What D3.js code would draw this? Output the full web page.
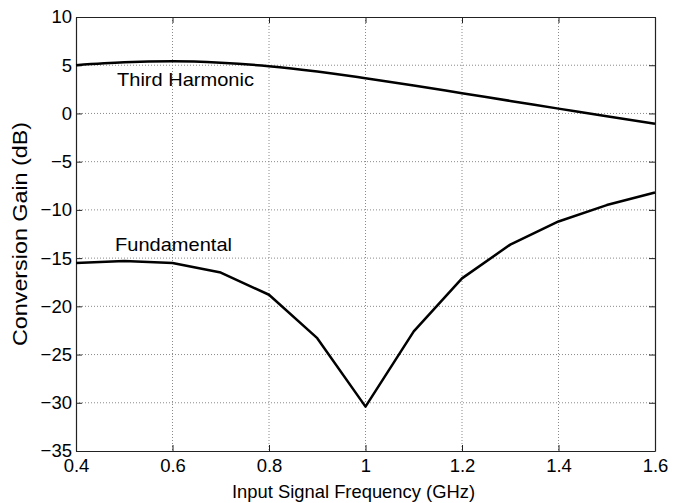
<!DOCTYPE html>
<html>
<head>
<meta charset="utf-8">
<script src="https://cdn.jsdelivr.net/npm/d3@7"></script>
<style>
  html, body { margin: 0; padding: 0; background: #fff; }
  svg { display: block; font-family: "Liberation Sans", Arial, Helvetica, sans-serif; }
</style>
</head>
<body>
<svg id="chart" width="673" height="503"></svg>
<script>
const frequency = [0.4, 0.5, 0.6, 0.7, 0.8, 0.9, 1.0, 1.1, 1.2, 1.3, 1.4, 1.5, 1.6];
const thirdHarmonic = [5.0, 5.3, 5.4, 5.25, 4.9, 4.35, 3.65, 2.9, 2.1, 1.3, 0.5, -0.3, -1.07];
const fundamental = [-15.5, -15.3, -15.5, -16.5, -18.8, -23.3, -30.4, -22.6, -17.1, -13.6, -11.2, -9.5, -8.2];
const xTicks = [0.4, 0.6, 0.8, 1.0, 1.2, 1.4, 1.6];
const yTicks = [-35, -30, -25, -20, -15, -10, -5, 0, 5, 10];
const seriesLabels = ["Third Harmonic", "Fundamental"];
const xLabel = "Input Signal Frequency (GHz)";
const yLabel = "Conversion Gain (dB)";

(function () {
const svg = d3.select("#chart");
const pL = 76, pR = 655, pT = 17, pB = 451;
const x = d3.scaleLinear().domain([0.4, 1.6]).range([pL, pR]);
const y = d3.scaleLinear().domain([-35, 10]).range([pB, pT]);

// grid
const grid = svg.append("g");
grid.selectAll(".vg").data(xTicks.slice(1, -1)).join("line")
  .attr("x1", d => x(d)).attr("x2", d => x(d))
  .attr("y1", pT).attr("y2", pB)
  .attr("stroke", "#8a8a8a").attr("stroke-width", 1).attr("stroke-dasharray", "1,2");
grid.selectAll(".hg").data(yTicks.slice(1, -1)).join("line")
  .attr("x1", pL).attr("x2", pR)
  .attr("y1", d => y(d)).attr("y2", d => y(d))
  .attr("stroke", "#8a8a8a").attr("stroke-width", 1).attr("stroke-dasharray", "1,2");

// axes (inward ticks on all sides)
const fmtX = d => d === 1 ? "1" : d3.format(".1f")(d);
const fmtY = d => d3.format("d")(d);
const axB = svg.append("g").attr("transform", `translate(0,${pB})`)
  .call(d3.axisBottom(x).tickValues(xTicks).tickFormat(fmtX).tickSizeInner(-6).tickSizeOuter(0).tickPadding(10));
const axT = svg.append("g").attr("transform", `translate(0,${pT})`)
  .call(d3.axisTop(x).tickValues(xTicks).tickFormat("").tickSizeInner(-6).tickSizeOuter(0));
const axL = svg.append("g").attr("transform", `translate(${pL},0)`)
  .call(d3.axisLeft(y).tickValues(yTicks).tickFormat(fmtY).tickSizeInner(-6).tickSizeOuter(0).tickPadding(4));
const axR = svg.append("g").attr("transform", `translate(${pR},0)`)
  .call(d3.axisRight(y).tickValues(yTicks).tickFormat("").tickSizeInner(-6).tickSizeOuter(0));

[axB, axT, axL, axR].forEach(a => {
  a.select(".domain").attr("stroke", "#222").attr("stroke-width", 1.2);
  a.selectAll(".tick line").attr("stroke", "#222").attr("stroke-width", 1);
  a.selectAll("text").attr("font-size", 18.5).attr("fill", "#000")
    .attr("font-family", "'Liberation Sans', Arial, sans-serif");
});
axB.selectAll("text").attr("y", 8).attr("dy", "0.72em");
axL.selectAll("text").attr("x", -4);

// lines
const line = d3.line().x((d, i) => x(frequency[i])).y(d => y(d)).curve(d3.curveLinear);
const thirdLine = d3.line().x((d, i) => x(frequency[i])).y(d => y(d)).curve(d3.curveMonotoneX);
svg.append("path").datum(thirdHarmonic).attr("d", thirdLine)
  .attr("fill", "none").attr("stroke", "#000").attr("stroke-width", 2.5).attr("stroke-linejoin", "round");
svg.append("path").datum(fundamental).attr("d", line)
  .attr("fill", "none").attr("stroke", "#000").attr("stroke-width", 2.5).attr("stroke-linejoin", "round");

// annotations
svg.append("text").attr("x", 117).attr("y", 86).attr("font-size", 19)
  .attr("textLength", 137).attr("lengthAdjust", "spacingAndGlyphs").text(seriesLabels[0]);
svg.append("text").attr("x", 115).attr("y", 250.5).attr("font-size", 19)
  .attr("textLength", 117).attr("lengthAdjust", "spacingAndGlyphs").text(seriesLabels[1]);

// axis labels
svg.append("text").attr("x", 232).attr("y", 498).attr("font-size", 18.5)
  .attr("textLength", 243).attr("lengthAdjust", "spacingAndGlyphs").text(xLabel);
svg.append("text").attr("transform", `translate(27,346) rotate(-90)`)
  .attr("font-size", 21).attr("textLength", 224).attr("lengthAdjust", "spacingAndGlyphs").text(yLabel);
})();
</script>
</body>
</html>
